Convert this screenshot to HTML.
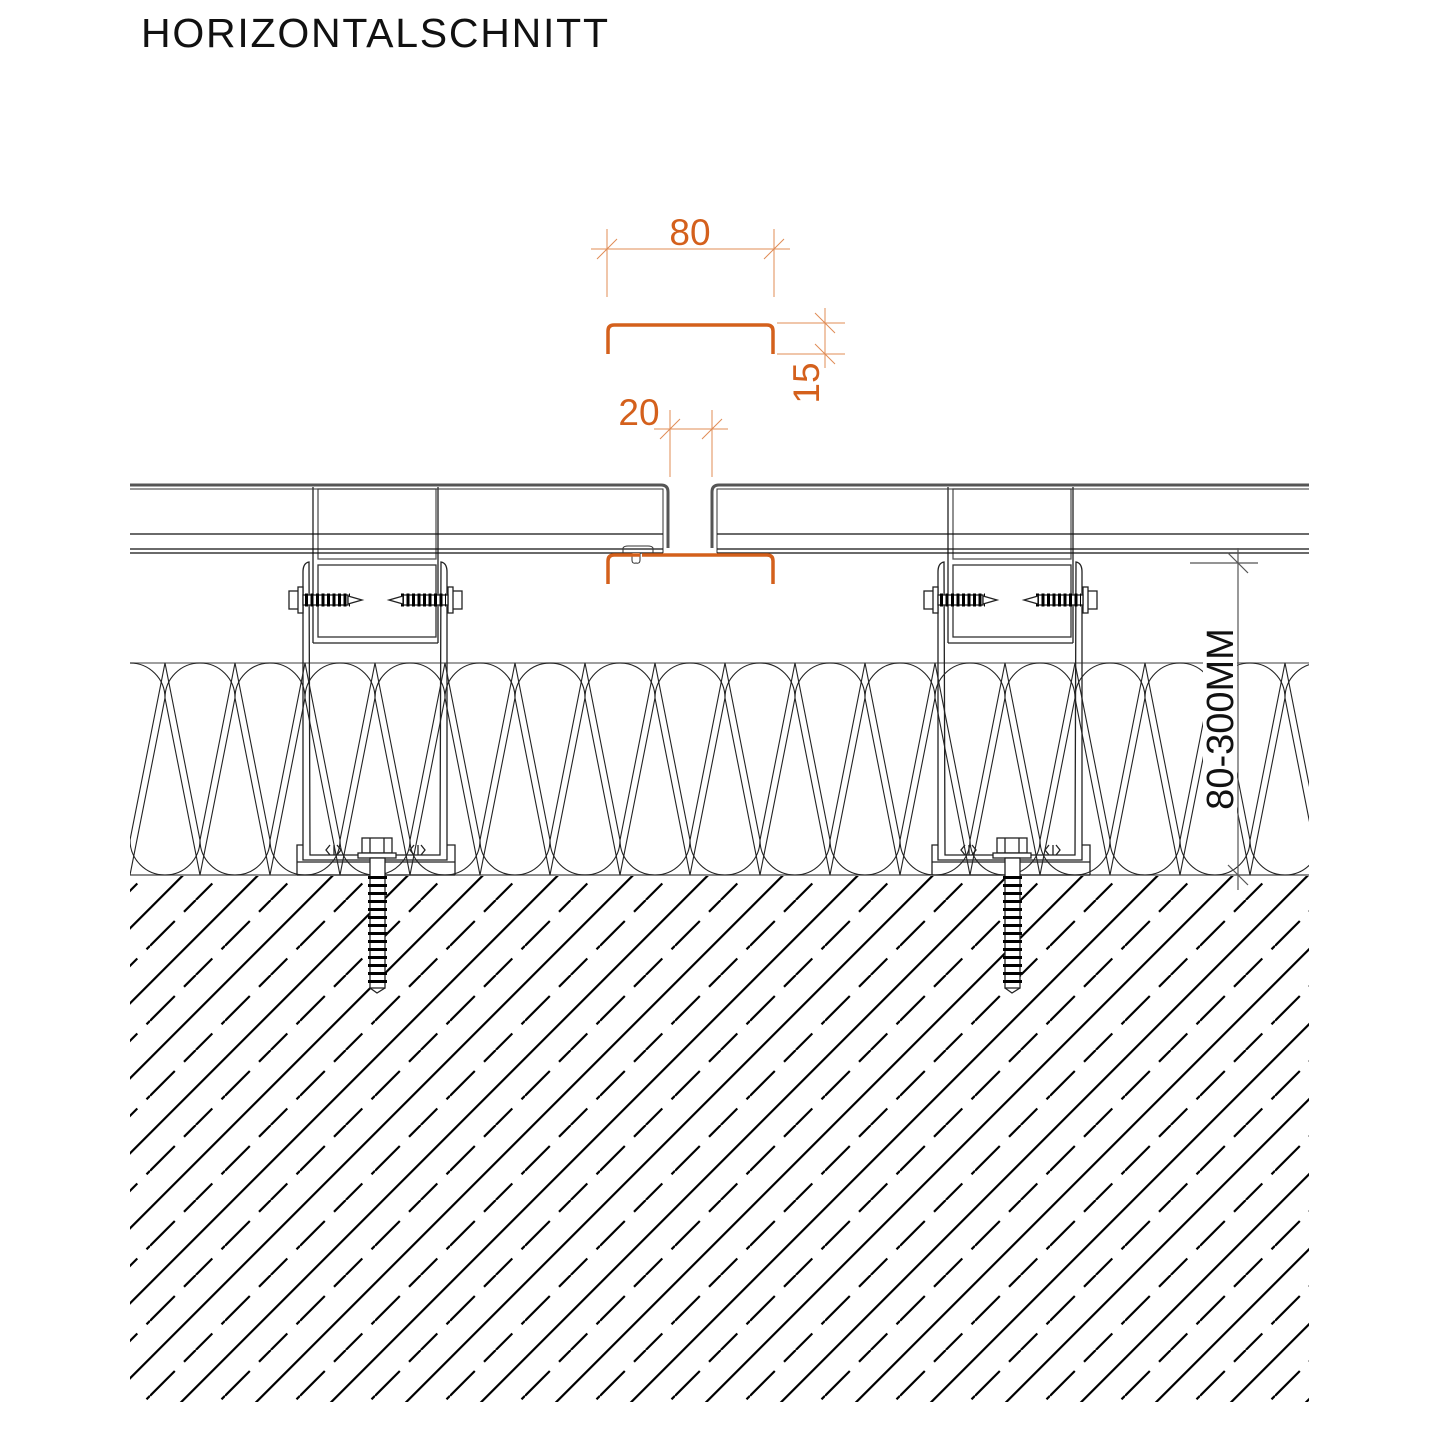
<!DOCTYPE html>
<html><head><meta charset="utf-8"><style>
html,body{margin:0;padding:0;background:#fff;}
svg{display:block;}
</style></head><body>
<svg width="1440" height="1440" viewBox="0 0 1440 1440" xmlns="http://www.w3.org/2000/svg">
<defs>
<pattern id="hatch" patternUnits="userSpaceOnUse" width="75" height="75">
 <g stroke="#000" stroke-width="2.2" fill="none">
  <line x1="-2" y1="10.3" x2="10.3" y2="-2"/>
  <line x1="6.3" y1="77" x2="77" y2="6.3"/>
  <line x1="45.8" y1="0" x2="34" y2="11.8"/>
  <line x1="24.8" y1="21" x2="0" y2="45.8"/>
  <line x1="75" y1="45.8" x2="71.5" y2="49.3"/>
  <line x1="62.3" y1="58.5" x2="45.8" y2="75"/>
 </g>
</pattern>
<clipPath id="insClip"><rect x="130" y="660" width="1179" height="217"/></clipPath>
<g id="bracket" fill="none" stroke="#222" stroke-width="1.3">
 <line x1="313" y1="487" x2="313" y2="643"/>
 <line x1="438" y1="487" x2="438" y2="643"/>
 <line x1="313" y1="643" x2="438" y2="643"/>
 <rect x="318" y="489" width="118" height="70" stroke="#555"/>
 <rect x="318" y="565" width="118" height="72" stroke="#333"/>
 <path d="M303,860 V572 Q303,563 309,562 L310,855 H440 L441,562 Q447,563 447,572 V860 Z"/>
 <path d="M297,875 V845 H303 M455,875 V845 H447 M297,862 H455" />
 <path d="M297,875 H455"/>
 <rect x="289" y="591" width="10" height="18" fill="#fff"/>
 <rect x="298" y="587" width="5" height="26" fill="#fff"/>
 <rect x="303" y="595" width="45" height="10" fill="#fff"/>
 <line x1="305" y1="600" x2="350" y2="600" stroke="#000" stroke-width="13" stroke-dasharray="3 2.5"/>
 <path d="M348,596 L362,600 L348,604 Z" fill="#fff"/>
 <rect x="452" y="591" width="10" height="18" fill="#fff"/>
 <rect x="448" y="587" width="5" height="26" fill="#fff"/>
 <rect x="403" y="595" width="45" height="10" fill="#fff"/>
 <line x1="401" y1="600" x2="446" y2="600" stroke="#000" stroke-width="13" stroke-dasharray="3 2.5"/>
 <path d="M403,596 L389,600 L403,604 Z" fill="#fff"/>
 <path d="M330,855 L326,850 L330,845 M334,855 V845 M337,845 L341,850 L337,855" />
 <path d="M414,855 L410,850 L414,845 M418,855 V845 M421,845 L425,850 L421,855" />
 <rect x="362" y="838" width="30" height="15" fill="#fff"/>
 <line x1="370" y1="838" x2="370" y2="853"/><line x1="384" y1="838" x2="384" y2="853"/>
 <rect x="358" y="853" width="38" height="5" fill="#fff"/>
 <rect x="370" y="858" width="15" height="130" fill="#fff"/>
 <line x1="377.5" y1="876" x2="377.5" y2="985" stroke="#000" stroke-width="19" stroke-dasharray="3 5"/>
 <path d="M370,988 L377,993 L385,988" />
</g>
</defs>

<text x="141" y="47" font-family="Liberation Sans, sans-serif" font-size="41" fill="#111" textLength="467" lengthAdjust="spacing">HORIZONTALSCHNITT</text>

<rect x="130" y="876" width="1179" height="526" fill="url(#hatch)"/>
<line x1="130" y1="875" x2="1309" y2="875" stroke="#444" stroke-width="1.2"/>

<line x1="130" y1="663" x2="1309" y2="663" stroke="#666" stroke-width="1.2"/>
<g clip-path="url(#insClip)" fill="none" stroke="#222" stroke-width="1.1">
 <path d="
 M95,698 A35,35 0 0 1 165,698 M95,698 L130,875 M165,698 L130,875
 M165,698 A35,35 0 0 1 235,698 L200,875 L165,698
 M235,698 A35,35 0 0 1 305,698 L270,875 L235,698
 M305,698 A35,35 0 0 1 375,698 L340,875 L305,698
 M375,698 A35,35 0 0 1 445,698 L410,875 L375,698
 M445,698 A35,35 0 0 1 515,698 L480,875 L445,698
 M515,698 A35,35 0 0 1 585,698 L550,875 L515,698
 M585,698 A35,35 0 0 1 655,698 L620,875 L585,698
 M655,698 A35,35 0 0 1 725,698 L690,875 L655,698
 M725,698 A35,35 0 0 1 795,698 L760,875 L725,698
 M795,698 A35,35 0 0 1 865,698 L830,875 L795,698
 M865,698 A35,35 0 0 1 935,698 L900,875 L865,698
 M935,698 A35,35 0 0 1 1005,698 L970,875 L935,698
 M1005,698 A35,35 0 0 1 1075,698 L1040,875 L1005,698
 M1075,698 A35,35 0 0 1 1145,698 L1110,875 L1075,698
 M1145,698 A35,35 0 0 1 1215,698 L1180,875 L1145,698
 M1215,698 A35,35 0 0 1 1285,698 L1250,875 L1215,698
 M1285,698 A35,35 0 0 1 1355,698 L1320,875 L1285,698
 "/>
 <path d="
 M130,840 A35,35 0 0 0 200,840 L165,663 L130,840
 M200,840 A35,35 0 0 0 270,840 L235,663 L200,840
 M270,840 A35,35 0 0 0 340,840 L305,663 L270,840
 M340,840 A35,35 0 0 0 410,840 L375,663 L340,840
 M410,840 A35,35 0 0 0 480,840 L445,663 L410,840
 M480,840 A35,35 0 0 0 550,840 L515,663 L480,840
 M550,840 A35,35 0 0 0 620,840 L585,663 L550,840
 M620,840 A35,35 0 0 0 690,840 L655,663 L620,840
 M690,840 A35,35 0 0 0 760,840 L725,663 L690,840
 M760,840 A35,35 0 0 0 830,840 L795,663 L760,840
 M830,840 A35,35 0 0 0 900,840 L865,663 L830,840
 M900,840 A35,35 0 0 0 970,840 L935,663 L900,840
 M970,840 A35,35 0 0 0 1040,840 L1005,663 L970,840
 M1040,840 A35,35 0 0 0 1110,840 L1075,663 L1040,840
 M1110,840 A35,35 0 0 0 1180,840 L1145,663 L1110,840
 M1180,840 A35,35 0 0 0 1250,840 L1215,663 L1180,840
 M1250,840 A35,35 0 0 0 1320,840 L1285,663 L1250,840
 M60,840 A35,35 0 0 0 130,840 L95,663 L60,840
 "/>
</g>

<use href="#bracket"/>
<use href="#bracket" transform="translate(635,0)"/>

<g fill="none">
 <path d="M130,485 H661 Q668,485 668,492 V548" stroke="#555" stroke-width="3"/>
 <path d="M130,489 H663 V553" stroke="#333" stroke-width="1"/>
 <path d="M130,534 H663 M130,549 H663 M130,553 H663" stroke="#111" stroke-width="1.2"/>
 <path d="M1309,485 H719 Q712,485 712,492 V548" stroke="#555" stroke-width="3"/>
 <path d="M1309,489 H717 V553" stroke="#333" stroke-width="1"/>
 <path d="M717,534 H1309 M717,549 H1309 M717,553 H1309" stroke="#111" stroke-width="1.2"/>
 <path d="M623,553 V548 Q624,546 628,546 H648 Q652,546 653,548 V553" stroke="#333" stroke-width="1"/>
 <path d="M632,553 V560 Q632,564 636,563 Q640,564 640,560 V553" stroke="#333" stroke-width="1" fill="#fff"/>
</g>

<g fill="none" stroke="#d4601c" stroke-width="3.5">
 <path d="M608,354 V331 Q608,325 614,325 H767 Q773,325 773,331 V354"/>
 <path d="M608,584 V561 Q608,555 614,555 H640 M642,555 H767 Q773,555 773,561 V584"/>
</g>

<g stroke="#e08c55" stroke-width="1" fill="none">
 <line x1="591" y1="249" x2="790" y2="249"/>
 <line x1="607" y1="229" x2="607" y2="297"/>
 <line x1="774" y1="229" x2="774" y2="297"/>
 <line x1="597" y1="259" x2="617" y2="239"/>
 <line x1="764" y1="259" x2="784" y2="239"/>
 <line x1="777" y1="323" x2="845" y2="323"/>
 <line x1="777" y1="354" x2="845" y2="354"/>
 <line x1="825" y1="308" x2="825" y2="368"/>
 <line x1="815" y1="313" x2="835" y2="333"/>
 <line x1="815" y1="344" x2="835" y2="364"/>
 <line x1="654" y1="429" x2="728" y2="429"/>
 <line x1="670" y1="410" x2="670" y2="477"/>
 <line x1="712" y1="410" x2="712" y2="477"/>
 <line x1="660" y1="439" x2="680" y2="419"/>
 <line x1="702" y1="439" x2="722" y2="419"/>
</g>
<g font-family="Liberation Sans, sans-serif" fill="#d4601c" font-size="37">
 <text x="690" y="245" text-anchor="middle">80</text>
 <text x="639" y="425" text-anchor="middle">20</text>
 <text transform="translate(819,383) rotate(-90)" text-anchor="middle">15</text>
</g>

<g stroke="#555" stroke-width="1.2" fill="none">
 <line x1="1238" y1="548" x2="1238" y2="890"/>
 <line x1="1190" y1="563" x2="1258" y2="563"/>
 <line x1="1228" y1="553" x2="1248" y2="573"/>
 <line x1="1228" y1="865" x2="1248" y2="885"/>
</g>
<rect x="1203" y="625" width="34" height="188" fill="#fff"/>
<text transform="translate(1233,719) rotate(-90)" text-anchor="middle" font-family="Liberation Sans, sans-serif" font-size="38" fill="#111">80-300MM</text>
</svg>
</body></html>
